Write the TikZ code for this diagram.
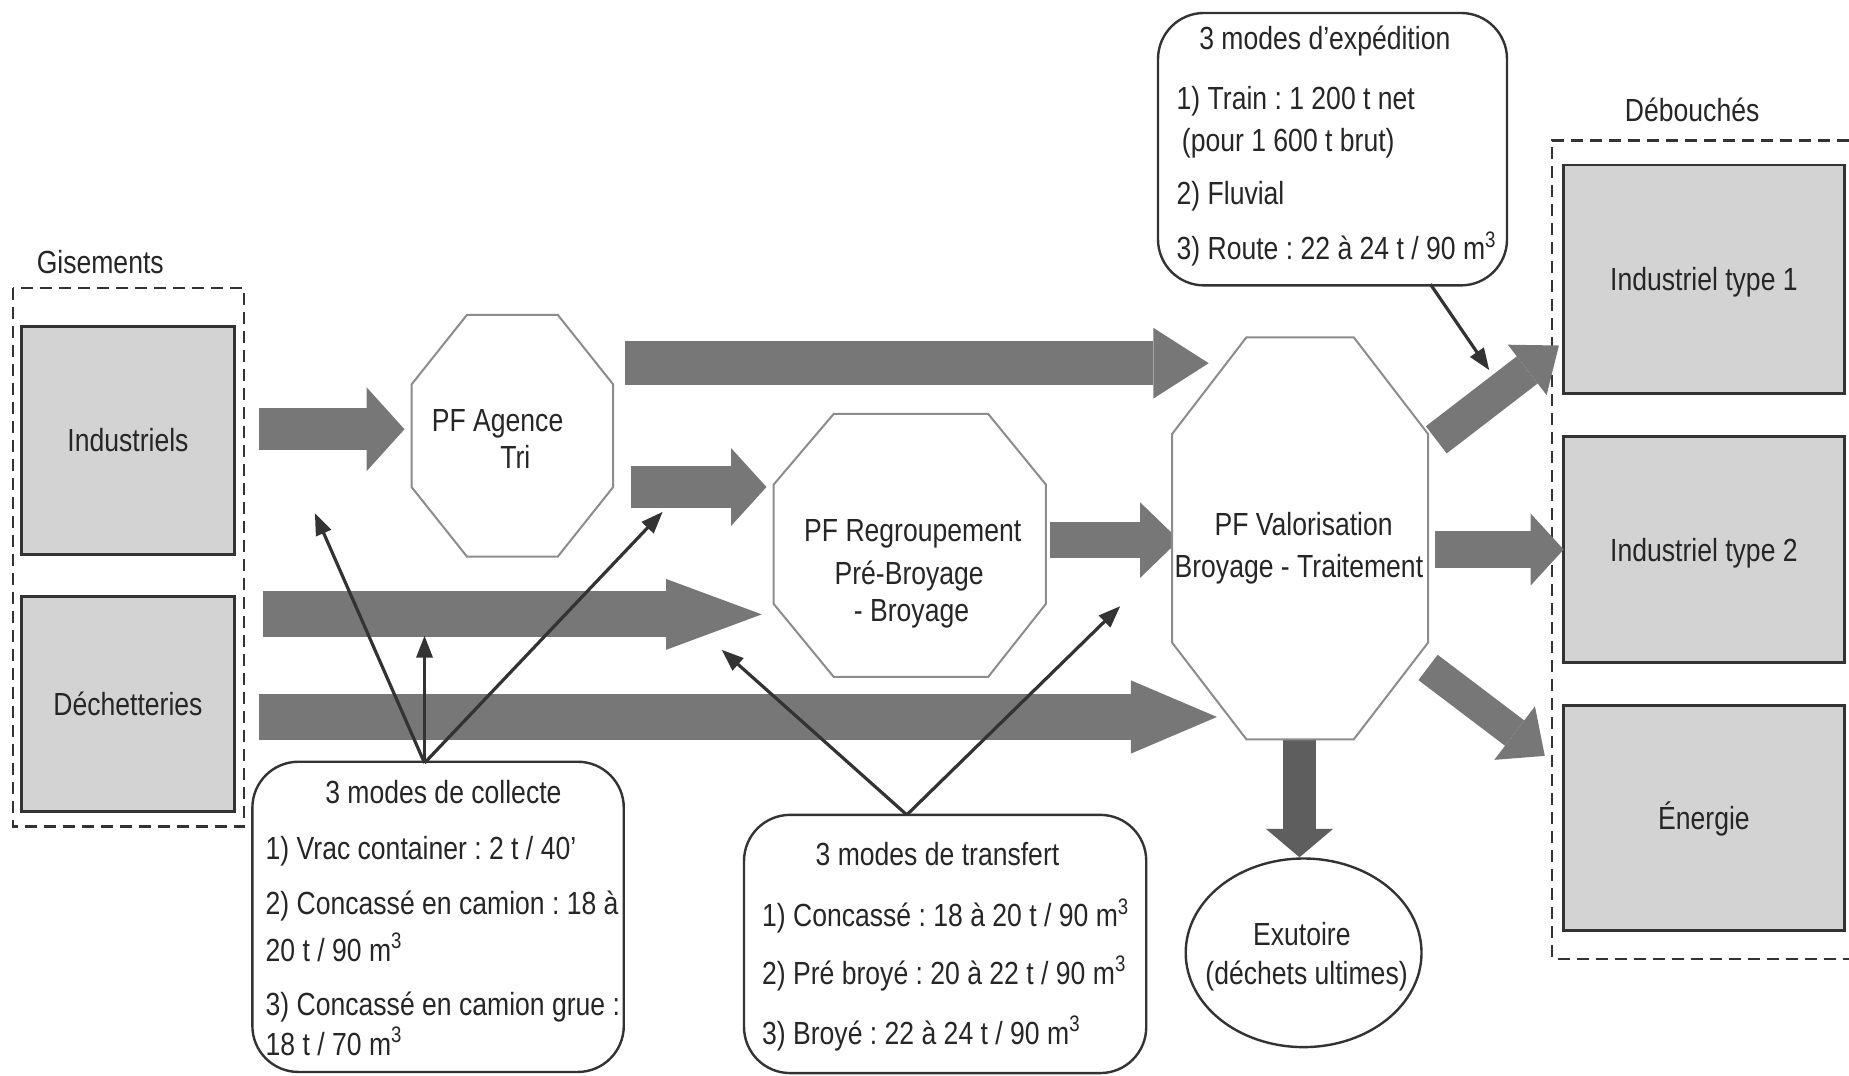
\documentclass[tikz,border=0pt]{standalone}
\usepackage{fontspec}
\setmainfont{Liberation Sans}[FakeStretch=0.83]
\usetikzlibrary{arrows.meta,shapes.geometric}
\definecolor{arrgray}{HTML}{777777}
\definecolor{arrdark}{HTML}{5E5E5E}
\definecolor{boxfill}{HTML}{D3D3D3}
\definecolor{octline}{HTML}{8C8C8C}
\definecolor{ink}{HTML}{262626}
\definecolor{edge}{HTML}{333333}
\frenchspacing
\begin{document}
\begin{tikzpicture}[x=0.5896pt,y=-0.5896pt,
  font=\fontsize{16}{19}\selectfont, text=ink,
  txt/.style={inner sep=0pt, text height=11.5pt, text depth=0pt},
  gbox/.style={draw=edge, line width=1.4pt, fill=boxfill, inner sep=0pt, text height=11.5pt, text depth=0pt},
  callout/.style={draw=edge, line width=1.2pt, rounded corners=23pt, fill=white, inner sep=0pt},
  octa/.style={draw=octline, line width=1pt, fill=white},
  dashbox/.style={draw=edge, line width=1.2pt, dash pattern=on 6pt off 3.5pt},
  barr/.style n args={3}{draw=arrgray, line width=#1, -{Triangle[width=#2,length=#3,line width=0pt]}},
  thin/.style={draw=edge, line width=1.6pt, -{Triangle[length=11pt,width=8pt]}}]

\path[use as bounding box, fill=white] (0,0) rectangle (1568,912);

% ---- dashed groups
\draw[dashbox] (11,244) rectangle (207,701);
\draw[dashbox] (1600,119) -- (1316,119) -- (1316,813) -- (1600,813);
\node[txt] (gis) at (85,222) {Gisements};
\node[txt] (deb) at (1435,93) {Débouchés};

% ---- grey boxes
\node[gbox, minimum width=106.7pt, minimum height=113.8pt] (ind) at (108.5,373.5) {Industriels};
\node[gbox, minimum width=106.7pt, minimum height=107.3pt] (dec) at (108.5,597) {Déchetteries};
\node[gbox, minimum width=140.3pt, minimum height=114.4pt] (it1) at (1445,237) {Industriel type 1};
\node[gbox, minimum width=140.3pt, minimum height=113.2pt] (it2) at (1445,466) {Industriel type 2};
\node[gbox, minimum width=140.3pt, minimum height=112.6pt] (ene) at (1445,693.5) {Énergie};

% ---- block arrow end points
\coordinate (a1s) at (220,364);  \coordinate (a1e) at (343,364);
\coordinate (a2s) at (530,308);  \coordinate (a2e) at (1025,308);
\coordinate (a3s) at (535,413);  \coordinate (a3e) at (650,413);
\coordinate (a4s) at (223,521);  \coordinate (a4e) at (646,521);
\coordinate (a5s) at (220,608);  \coordinate (a5e) at (1032,608);
\coordinate (a6s) at (890,458);  \coordinate (a6e) at (1000,458);
\coordinate (a7s) at (1217,466); \coordinate (a7e) at (1326,466);
\coordinate (a8s) at (1218,373); \coordinate (a8e) at (1322,293);
\coordinate (a9s) at (1211,566); \coordinate (a9e) at (1310,641);
\coordinate (a10s) at (1102,627); \coordinate (a10e) at (1102,727);

\draw[barr={21.2pt}{41.9pt}{18.9pt}] (a1s) -- (a1e);
\draw[barr={21.8pt}{35.4pt}{27.7pt}] (a2s) -- (a2e);
\draw[barr={21.2pt}{38.9pt}{17.7pt}] (a3s) -- (a3e);
\draw[barr={23.0pt}{35.4pt}{47.8pt}] (a4s) -- (a4e);
\draw[barr={23.0pt}{36.6pt}{43.0pt}] (a5s) -- (a5e);
\draw[barr={17.7pt}{37.7pt}{19.5pt}] (a6s) -- (a6e);
\draw[barr={18.3pt}{36.0pt}{16.5pt}] (a7s) -- (a7e);
\draw[barr={17.1pt}{31.8pt}{20.0pt}] (a8s) -- (a8e);
\draw[barr={15.9pt}{33.6pt}{18.9pt}] (a9s) -- (a9e);
\draw[barr={16.5pt}{33.6pt}{14.2pt}, draw=arrdark] (a10s) -- (a10e);

% ---- octagons
\draw[octa] (396,267) -- (473,267) -- (520,326) -- (520,413) -- (473,472) -- (396,472) -- (349,413) -- (349,326) -- cycle;
\node[txt] (ag1) at (422,356) {PF Agence};
\node[txt] (ag2) at (437,387.5) {Tri};

\draw[octa] (707,351) -- (838,351) -- (887,411) -- (887,512) -- (838,574) -- (707,574) -- (656,512) -- (656,411) -- cycle;
\node[txt] (rg1) at (774,449.5) {PF Regroupement};
\node[txt] (rg2) at (771,486) {Pré-Broyage};
\node[txt] (rg3) at (773,517) {- Broyage};

\draw[octa] (1057,286) -- (1148,286) -- (1211,368) -- (1211,545) -- (1148,627) -- (1057,627) -- (994,545) -- (994,368) -- cycle;
\node[txt] (va1) at (1105.5,444) {PF Valorisation};
\node[txt] (va2) at (1101.5,480) {Broyage - Traitement};

% ---- exutoire
\node[draw=edge, line width=1.2pt, ellipse, fill=white, minimum width=117.9pt, minimum height=94.3pt] (exu) at (1105.5,808) {};
\node[txt] (ex1) at (1104,792) {Exutoire};
\node[txt] (ex2) at (1108,825) {(déchets ultimes)};

% ---- callout: expedition
\node[callout, minimum width=174.5pt, minimum height=136.2pt] (exp) at (1130,126.5) {};
\node[txt] (ep0) at (1123.5,32.5) {3 modes d’expédition};
\node[txt, anchor=west] (ep1) at (997.5,83.5) {1) Train : 1 200 t net};
\node[txt, anchor=west] (ep2) at (1002,118.7) {(pour 1 600 t brut)};
\node[txt, anchor=west] (ep3) at (997.5,164) {2) Fluvial};
\node[txt, anchor=west] (ep4) at (997.5,210.6) {3) Route : 22 à 24 t / 90 m\textsuperscript{3}};
\coordinate (expf) at (1213,241);
\coordinate (expt) at (1263,314);
\draw[thin] (expf) -- (expt);

% ---- callout: collecte
\node[callout, minimum width=185.7pt, minimum height=155.1pt] (col) at (371.5,777.5) {};
\node[txt] (cl0) at (376,671.5) {3 modes de collecte};
\node[txt, anchor=west] (cl1) at (225,719) {1) Vrac container : 2 t / 40’};
\node[txt, anchor=west] (cl2) at (225,766) {2) Concassé en camion : 18 à};
\node[txt, anchor=west] (cl3) at (225,805.5) {20 t / 90 m\textsuperscript{3}};
\node[txt, anchor=west] (cl4) at (225,851) {3) Concassé en camion grue :};
\node[txt, anchor=west] (cl5) at (225,885) {18 t / 70 m\textsuperscript{3}};
\coordinate (colf) at (360,647);
\coordinate (colt1) at (267,435);
\coordinate (colt2) at (360,539);
\coordinate (colt3) at (562,434);
\draw[thin] (colf) -- (colt1);
\draw[thin] (colf) -- (colt2);
\draw[thin] (colf) -- (colt3);

% ---- callout: transfert
\node[callout, minimum width=201.1pt, minimum height=129.1pt] (tra) at (801.5,800.5) {};
\node[txt] (tr0) at (795,724) {3 modes de transfert};
\node[txt, anchor=west] (tr1) at (646,776) {1) Concassé : 18 à 20 t / 90 m\textsuperscript{3}};
\node[txt, anchor=west] (tr2) at (646,825) {2) Pré broyé : 20 à 22 t / 90 m\textsuperscript{3}};
\node[txt, anchor=west] (tr3) at (646,876) {3) Broyé : 22 à 24 t / 90 m\textsuperscript{3}};
\coordinate (traf) at (769,691);
\coordinate (trat1) at (612,551);
\coordinate (trat2) at (950,514);
\draw[thin] (traf) -- (trat1);
\draw[thin] (traf) -- (trat2);
\end{tikzpicture}
\end{document}
